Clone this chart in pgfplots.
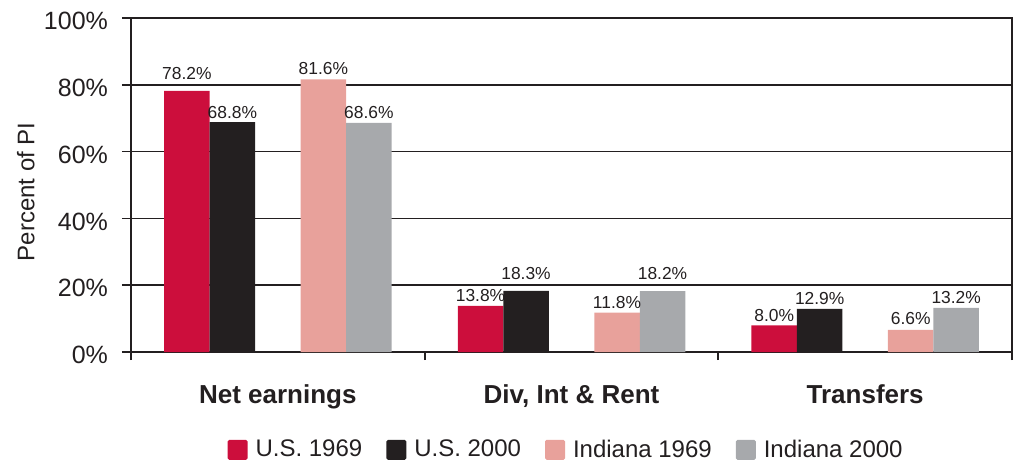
\documentclass[border=0pt]{standalone}
\usepackage{fontspec}
\setmainfont{Liberation Sans}
\usepackage{pgfplots}
\pgfplotsset{compat=1.18}
\definecolor{usred}{RGB}{204,14,60}
\definecolor{usblack}{RGB}{35,31,32}
\definecolor{inpink}{RGB}{232,161,155}
\definecolor{ingray}{RGB}{167,169,172}
\definecolor{txt}{RGB}{35,31,32}
\pgfplotsset{mybar/.style={fill=#1, draw=none,
  visualization depends on={\thisrow{off}\as\myoff},
  legend image code/.code={\fill[#1, rounded corners=0.8pt] (0pt,-5pt) rectangle (10pt,5pt); \path (12pt,0pt);}}}
% columns: group position, percent of PI, label offset above bar (pt)
\pgfplotstableread{
x y off
0 78.2 5.5
1 13.8 1.8
2 8.0 1.8
}\usnineteen
\pgfplotstableread{
x y off
0 68.8 1.8
1 18.3 5.5
2 12.9 1.8
}\ustwothousand
\pgfplotstableread{
x y off
0 81.6 2.2
1 11.8 2.0
2 6.6 2.2
}\innineteen
\pgfplotstableread{
x y off
0 68.6 1.8
1 18.2 5.5
2 13.2 1.8
}\intwothousand
\begin{document}
\begin{tikzpicture}
\begin{axis}[
  at={(0,0)}, anchor=south west,
  scale only axis, width=440.5pt, height=167pt,
  xmin=-0.5, xmax=2.5, ymin=0, ymax=100,
  ybar, bar width=22.75pt,
  /pgf/number format/assume math mode=true,
  axis line style={color=txt, line width=0.9pt},
  tick style={color=txt, line width=0.9pt},
  tick align=outside,
  xtick pos=bottom, ytick pos=left,
  major tick length=4.5pt,
  minor tick length=4pt,
  xtick={0,1,2},
  xticklabels={Net earnings, {Div, Int \& Rent}, Transfers},
  major x tick style={draw=none},
  minor xtick={-0.5,0.5,1.5,2.5},
  ytick={0,20,40,60,80,100},
  yticklabel={\pgfmathprintnumber{\tick}\%},
  ymajorgrids=true,
  major grid style={color=txt, line width=0.9pt},
  xticklabel style={font=\bfseries\fontsize{13}{15}\selectfont, color=txt, anchor=base, yshift=-21pt},
  yticklabel style={font=\fontsize{12.5}{15}\selectfont, color=txt, xshift=-3.5pt, yshift=-1.5pt},
  ylabel={Percent of PI},
  ylabel style={at={(axis description cs:0,0.48)}, anchor=south, inner sep=0pt, yshift=48pt,
    font=\fontsize{12}{14}\selectfont, color=txt},
  nodes near coords={\pgfmathprintnumber[fixed,fixed zerofill,precision=1]{\pgfplotspointmeta}\%},
  every node near coord/.append style={font=\fontsize{8.7}{10}\selectfont, color=txt, anchor=south, inner sep=0pt, yshift=\myoff pt},
  legend style={at={(0.495,-0.293)}, anchor=center, draw=none, fill=none,
    font=\fontsize{12}{14}\selectfont, text=txt, legend columns=4, column sep=0pt,
    /tikz/every even column/.append style={column sep=10pt}},
]
\addplot[mybar=usred, bar shift=-45.5pt] table[x=x, y=y] {\usnineteen};
\addplot[mybar=usblack, bar shift=-22.75pt] table[x=x, y=y] {\ustwothousand};
\addplot[mybar=inpink, bar shift=22.75pt] table[x=x, y=y] {\innineteen};
\addplot[mybar=ingray, bar shift=45.5pt] table[x=x, y=y] {\intwothousand};
\legend{U.S. 1969, U.S. 2000, Indiana 1969, Indiana 2000}
\end{axis}
\pgfresetboundingbox
\useasboundingbox (-65.5pt,-57pt) rectangle (442pt,176pt);
\end{tikzpicture}
\end{document}
